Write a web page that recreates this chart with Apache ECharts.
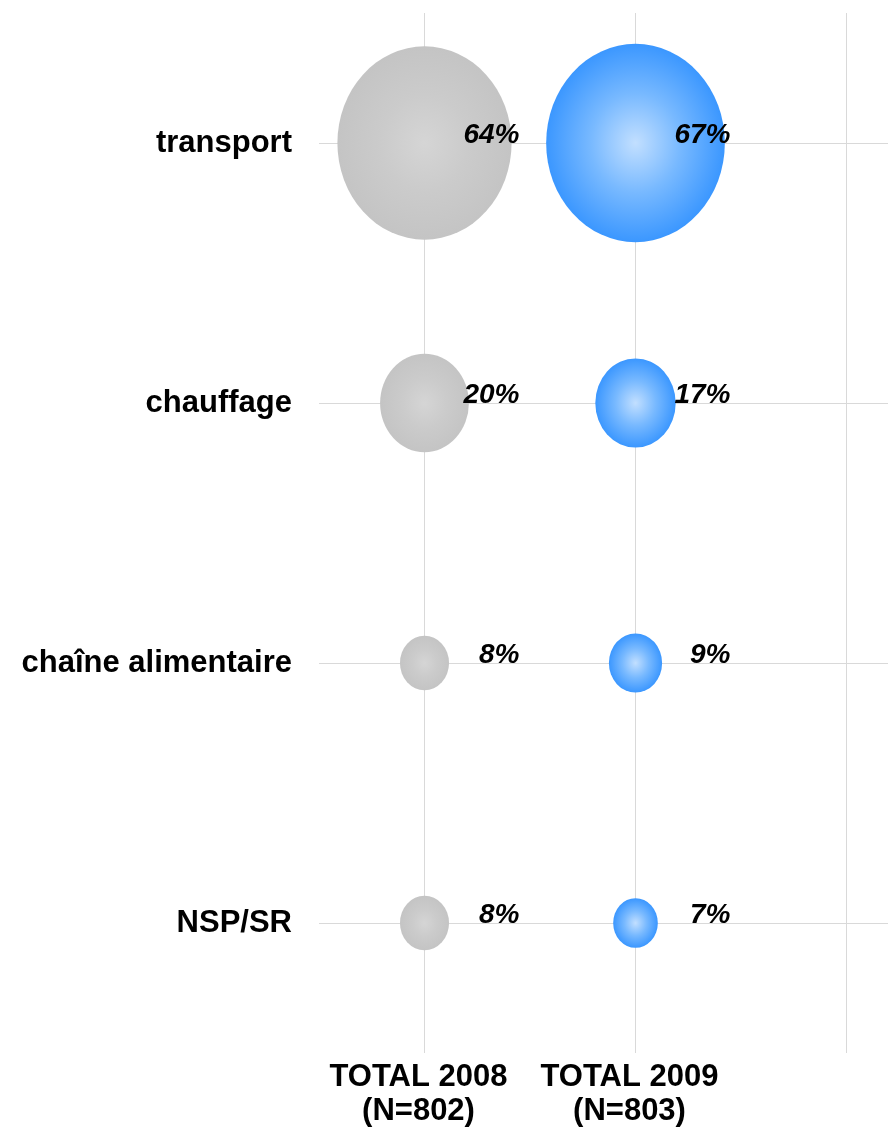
<!DOCTYPE html>
<html>
<head>
<meta charset="utf-8">
<script src="https://cdn.jsdelivr.net/npm/echarts@6/dist/echarts.min.js"></script>
<style>
  html, body { margin: 0; padding: 0; background: #fff; }
  #chart { width: 888px; height: 1131px; }
</style>
</head>
<body>
<div id="chart"></div>
<script>
// données
const columns = ['TOTAL 2008\n(N=802)', 'TOTAL 2009\n(N=803)', '']
const items = ['transport', 'chauffage', 'chaîne alimentaire', 'NSP/SR']
const share2008 = [64, 20, 8, 8]
const share2009 = [67, 17, 9, 7]

const chart = echarts.init(document.getElementById('chart'))

// taille des bulles (largeur, hauteur un peu étirée comme l'original)
const bubbleSize = (d) => {
  const w = -19.4 + 24.2 * Math.sqrt(d[2])
  return [w, w * 1.11]
}

const radial = (stops) => ({
  type: 'radial', x: 0.5, y: 0.5, r: 0.5,
  colorStops: stops.map((c, i) => ({ offset: i / (stops.length - 1), color: c }))
})

const makeSeries = (name, colIdx, values, color) => ({
  name,
  type: 'scatter',
  data: values.map((v, i) => [colIdx, i, v]),
  symbol: 'circle',
  symbolSize: bubbleSize,
  itemStyle: { color, opacity: 1 },
  label: {
    show: true,
    position: 'inside',
    align: 'right',
    offset: [95, -8],
    formatter: (p) => p.value[2] + '%',
    color: '#000',
    fontFamily: 'Liberation Sans, Arial, sans-serif',
    fontWeight: 'bold',
    fontStyle: 'italic',
    fontSize: 28
  },
  emphasis: { disabled: true }
})

const option = {
  backgroundColor: '#fff',
  animation: false,
  // la 3e colonne dépasse à droite : on laisse la grille sortir du cadre
  grid: { left: 319, right: -64, top: 13, bottom: 78, containLabel: false, outerBoundsMode: 'none' },
  xAxis: {
    type: 'category',
    data: columns,
    axisLine: { show: false },
    axisTick: { show: false },
    splitLine: { show: true, interval: 0, alignWithLabel: true, lineStyle: { color: '#d9d9d9', width: 1 } },
    axisLabel: {
      interval: 0,
      margin: 7,
      padding: [0, 12, 0, 0],
      color: '#000',
      fontFamily: 'Liberation Sans, Arial, sans-serif',
      fontWeight: 'bold',
      fontSize: 31,
      lineHeight: 34
    }
  },
  yAxis: {
    type: 'category',
    inverse: true,
    data: items,
    axisLine: { show: false },
    axisTick: { show: false },
    splitLine: { show: true, interval: 0, alignWithLabel: true, lineStyle: { color: '#d9d9d9', width: 1 } },
    axisLabel: {
      interval: 0,
      margin: 27,
      color: '#000',
      fontFamily: 'Liberation Sans, Arial, sans-serif',
      fontWeight: 'bold',
      fontSize: 31
    }
  },
  series: [
    makeSeries('2008', 0, share2008, radial(['#d5d5d5', '#cbcbcb', '#c4c4c4'])),
    makeSeries('2009', 1, share2009, radial(['#c2dfff', '#78b9ff', '#3b97ff']))
  ]
}

chart.setOption(option)
</script>
</body>
</html>
